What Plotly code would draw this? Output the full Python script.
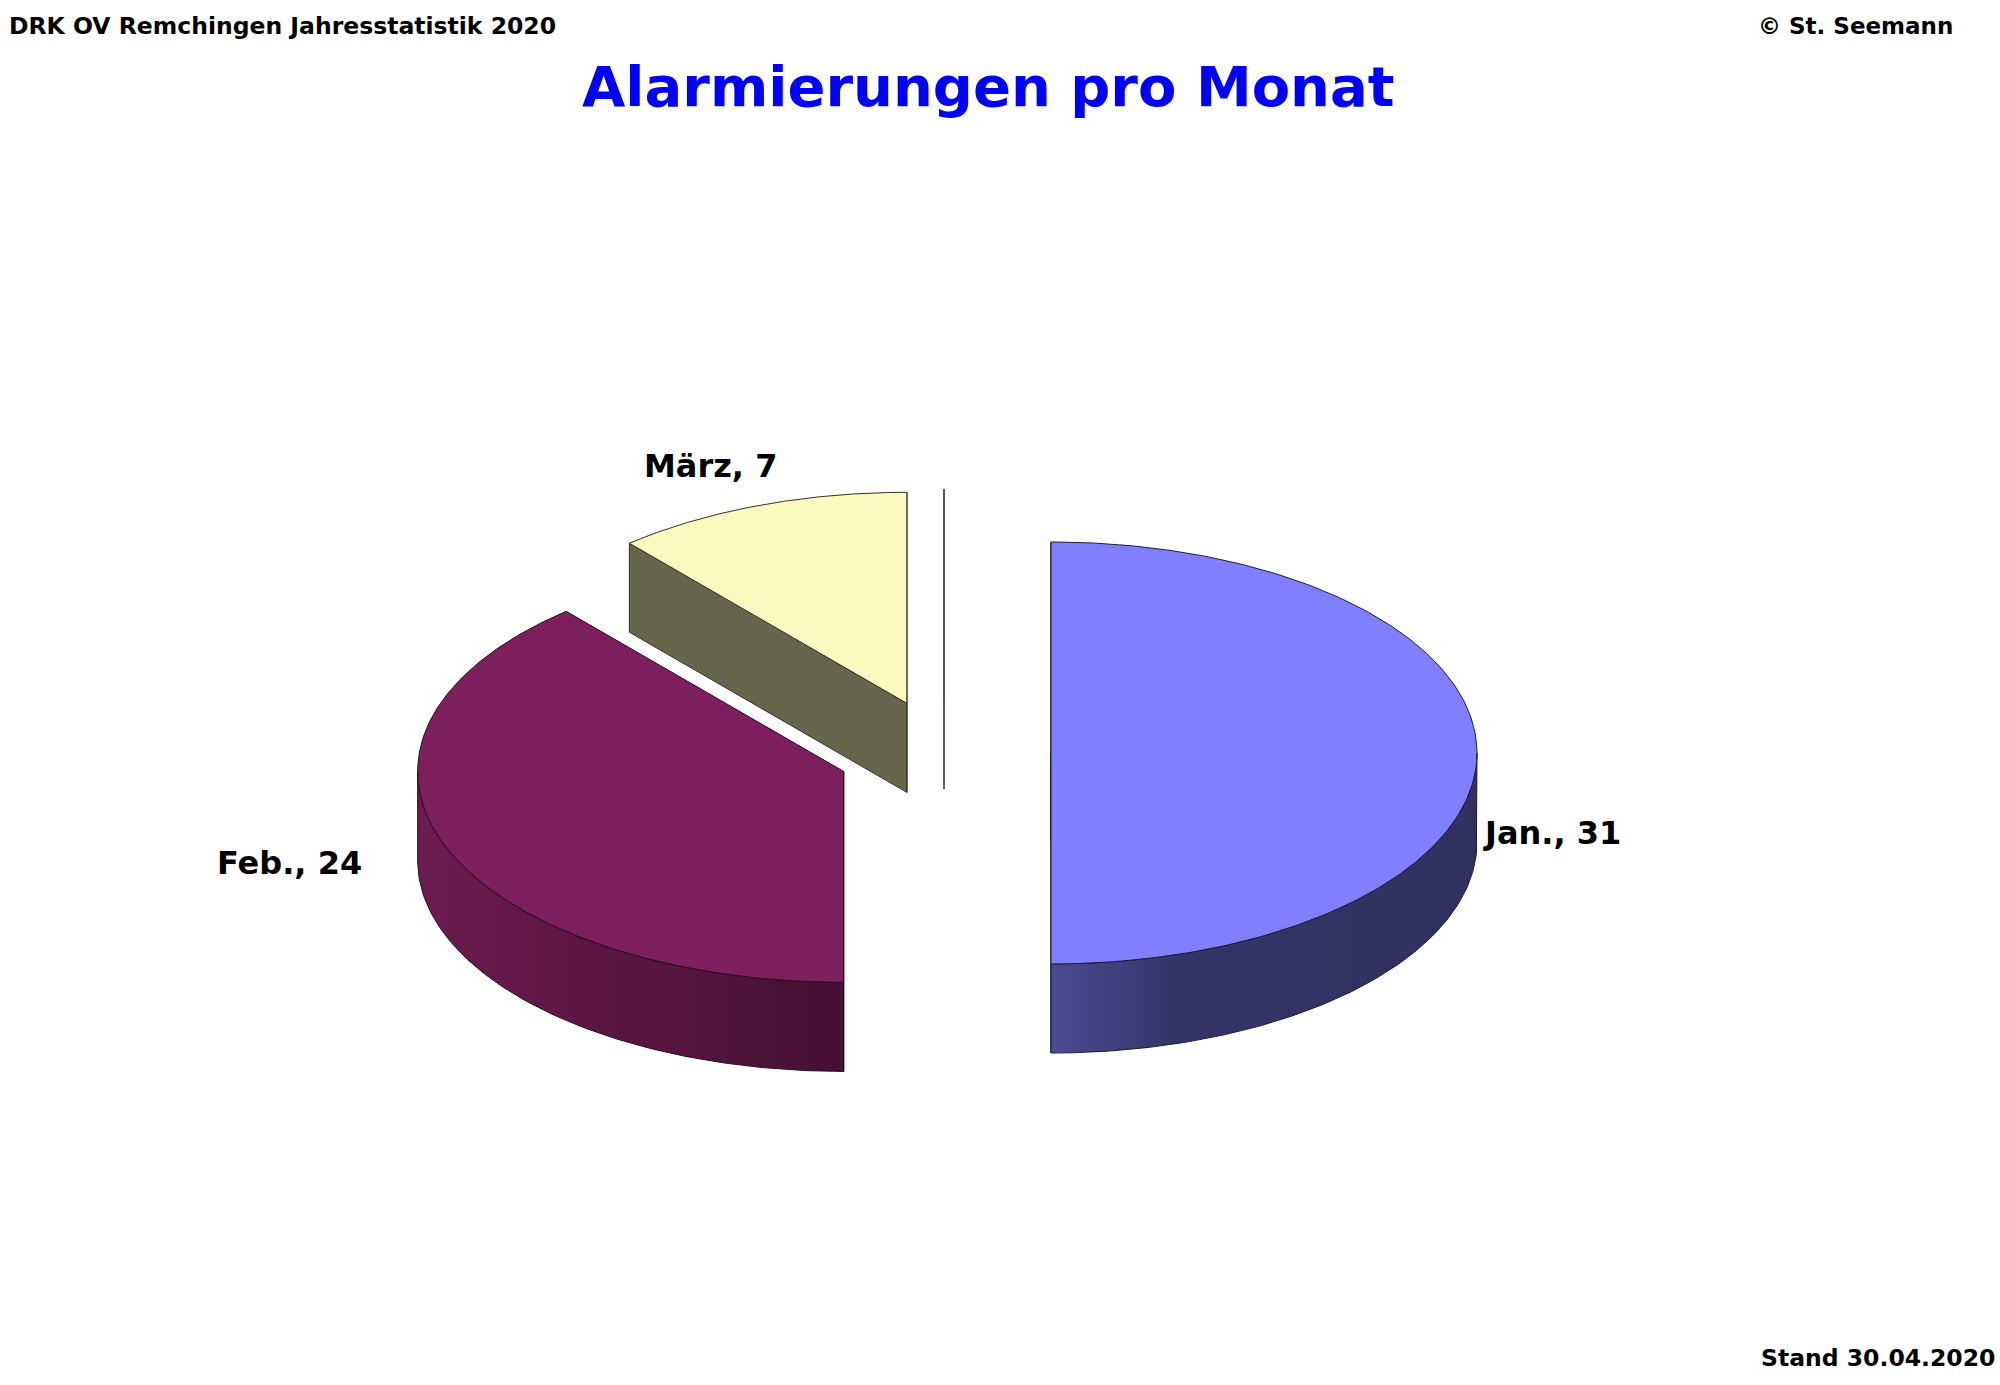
import numpy as np
import plotly.graph_objects as go

# Alarmierungen 2020 (Stand 30.04.2020)
months = ["Jan.", "Feb.", "März", "April"]
counts = [31, 24, 7, 0]

top_colors = ["#8080FF", "#7D1F5C", "#FAFAC0", "#FFFFFF"]
side_scales = [
    [[0, "#4B4B93"], [0.3, "#343468"], [1, "#31315F"]],
    [[0, "#6C1B50"], [1, "#451032"]],
    [[0, "#66664C"], [1, "#66664C"]],
    [[0, "#FFFFFF"], [1, "#FFFFFF"]],
]
edge_colors = ["#1a1a3a", "#2a0a1e", "#333322", "#555555"]

# pie geometry (page pixels)
cx, cy = 944, 753
rx, ry = 426, 211
depth = 89
pull = 107

# label placement relative to the slice rim point at mid angle
label_shift = [(4, 80, "left"), (-80, 18, "right"), (-48, -39, "center"), None]

fig = go.Figure()


def pt(x0, y0, ang):
    a = np.radians(ang)
    return x0 + rx * np.cos(a), y0 - ry * np.sin(a)


def poly(xs, ys, color=None, scale=None, edge="#222222"):
    kw = dict(x=xs, y=ys, mode="lines", fill="toself",
              line=dict(color=edge, width=1), hoverinfo="skip", showlegend=False)
    if scale is not None:
        kw["fillgradient"] = dict(type="horizontal", colorscale=scale)
    else:
        kw["fillcolor"] = color
    fig.add_trace(go.Scatter(**kw))


total = sum(counts)
slices = []
start = 90.0
for i, v in enumerate(counts):
    span = 360.0 * v / total
    hi, lo = start, start - span
    mid = (hi + lo) / 2
    ox = pull * np.cos(np.radians(mid))
    oy = -pull * (ry / rx) * np.sin(np.radians(mid))
    slices.append((i, hi, lo, mid, cx + ox, cy + oy))
    start = lo

# back slices first
for i, hi, lo, mid, sx, sy in sorted(slices, key=lambda s: s[5]):
    # radial cut faces
    for ang, normal in ((hi, hi + 90), (lo, lo - 90)):
        if np.sin(np.radians(normal)) <= 1e-9:
            ex, ey = pt(sx, sy, ang)
            poly([sx, ex, ex, sx, sx], [sy, ey, ey + depth, sy + depth, sy],
                 scale=side_scales[i], edge=edge_colors[i])
    # outer wall (front half only)
    for k in range(-2, 2):
        a0 = max(lo, 180 + 360 * k)
        a1 = min(hi, 360 + 360 * k)
        if a1 - a0 > 0.01:
            th = np.linspace(a0, a1, 120)
            xs, ys = pt(sx, sy, th)
            poly(list(xs) + list(xs[::-1]) + [xs[0]],
                 list(ys) + list(ys[::-1] + depth) + [ys[0]],
                 scale=side_scales[i], edge=edge_colors[i])
    # top face
    th = np.linspace(hi, lo, 240)
    xs, ys = pt(sx, sy, th)
    poly([sx] + list(xs) + [sx], [sy] + list(ys) + [sy],
         color=top_colors[i], edge=edge_colors[i])

    if label_shift[i] is not None:
        lx, ly = pt(sx, sy, mid)
        dx, dy, anc = label_shift[i]
        fig.add_annotation(x=lx + dx, y=ly + dy, xref="x", yref="y",
                           text=f"{months[i]}, {counts[i]}", showarrow=False,
                           xanchor=anc, yanchor="middle",
                           font=dict(family="DejaVu Sans", size=32, color="black", weight="bold"))

txt = dict(family="DejaVu Sans", color="black", weight="bold")
fig.add_annotation(x=7, y=26, xref="x", yref="y", text="DRK OV Remchingen Jahresstatistik 2020",
                   showarrow=False, xanchor="left", yanchor="middle", font=dict(txt, size=23.5))
fig.add_annotation(x=1955, y=26, xref="x", yref="y", text="© St. Seemann",
                   showarrow=False, xanchor="right", yanchor="middle", font=dict(txt, size=23))
fig.add_annotation(x=1997, y=1358, xref="x", yref="y", text="Stand 30.04.2020",
                   showarrow=False, xanchor="right", yanchor="middle", font=dict(txt, size=23.5))
fig.add_annotation(x=988, y=86, xref="x", yref="y", text="Alarmierungen pro Monat",
                   showarrow=False, xanchor="center", yanchor="middle",
                   font=dict(family="DejaVu Sans", size=56, color="#0000FF", weight="bold"))

fig.update_xaxes(range=[0, 2000], visible=False, fixedrange=True)
fig.update_yaxes(range=[1385, 0], visible=False, fixedrange=True)
fig.update_layout(width=2000, height=1385, margin=dict(l=0, r=0, t=0, b=0),
                  plot_bgcolor="white", paper_bgcolor="white", showlegend=False)

fig.write_html("out.html", config={"displayModeBar": False},
               post_script="document.body.style.margin='0';")
